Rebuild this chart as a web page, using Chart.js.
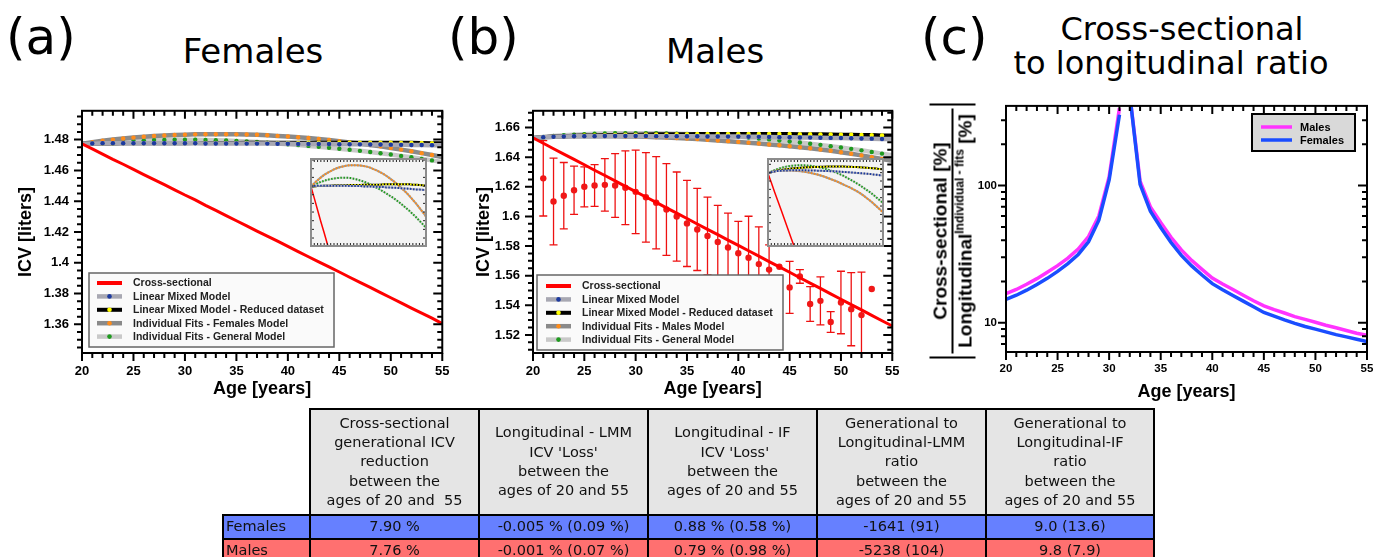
<!DOCTYPE html>
<html>
<head>
<meta charset="utf-8">
<script src="https://cdn.jsdelivr.net/npm/chart.js@4.4.1/dist/chart.umd.min.js"></script>
<style>
body { margin: 0; width: 1386px; height: 557px; background: #fff; position: relative; overflow: hidden; font-family: 'DejaVu Sans', sans-serif; color: #000; }
canvas { position: absolute; }
.panel { position: absolute; font-size: 50px; line-height: 1; top: 12px; white-space: nowrap; }
.ttl { position: absolute; line-height: 1; white-space: nowrap; transform: translateX(-50%); }
#frac { position: absolute; width: 255px; height: 46px; left: 824.5px; top: 207.5px; transform: rotate(-90deg);
        border-left: 2px solid #000; border-right: 2px solid #000; box-sizing: border-box;
        font: bold 19px 'Liberation Sans', Arial, sans-serif; text-align: center; white-space: nowrap; }
#frac .num { height: 22px; line-height: 22px; border-bottom: 2px solid #000; margin: 0 3px; }
#frac .den { height: 22px; line-height: 24px; }
#frac sup { font-size: 12px; vertical-align: 8px; line-height: 0; }
#tbl { position: absolute; left: 222px; top: 408px; border-collapse: collapse; table-layout: fixed;
       font-size: 14.5px; line-height: 19.3px; color: #111; }
#tbl td, #tbl th { border: 2px solid #000; padding: 0; font-weight: normal; text-align: center; }
#tbl th { background: #e5e5e5; height: 104px; white-space: pre; vertical-align: middle; }
#tbl td.blank { border: none; background: transparent; }
#tbl td.lab { text-align: left; padding-left: 2px; }
#tbl tr.f td { background: #6680ff; height: 22px; }
#tbl tr.m td { background: #ff7070; height: 22px; }
</style>
</head>
<body>

<div class="panel" style="left:6px">(a)</div>
<div class="panel" style="left:448px">(b)</div>
<div class="panel" style="left:921px">(c)</div>
<div class="ttl" style="left:253px;top:34px;font-size:34px">Females</div>
<div class="ttl" style="left:715px;top:34px;font-size:34px">Males</div>
<div class="ttl" style="left:1182px;top:13px;font-size:32px">Cross-sectional</div>
<div class="ttl" style="left:1171px;top:47px;font-size:32px">to longitudinal ratio</div>

<canvas id="chartA" width="460" height="320" style="left:0;top:90px"></canvas>
<canvas id="chartB" width="460" height="320" style="left:450px;top:90px"></canvas>
<canvas id="chartC" width="466" height="320" style="left:920px;top:90px"></canvas>
<canvas id="insetA" width="117" height="89" style="left:310px;top:158px"></canvas>
<canvas id="insetB" width="117" height="89" style="left:767px;top:158px"></canvas>

<div id="frac"><div class="num">Cross-sectional [%]</div><div class="den">Longitudinal<sup>Individual - fits</sup> [%]</div></div>

<table id="tbl"></table>

<script>
// ages shared by all curves
const ages = [20,21,22,23,24,25,26,27,28,29,30,31,32,33,34,35,36,37,38,39,40,41,42,43,44,45,46,47,48,49,50,51,52,53,54,55];

// (a) Females, ICV [liters]
const femCross  = [1.4773,1.4740,1.4706,1.4672,1.4640,1.4607,1.4573,1.4540,1.4507,1.4474,1.4440,1.4408,1.4373,1.4340,1.4306,1.4273,1.4240,1.4206,1.4173,1.4140,1.4106,1.4072,1.4039,1.4006,1.3973,1.3940,1.3906,1.3873,1.3840,1.3806,1.3773,1.3740,1.3706,1.3673,1.3640,1.3605];
const femLMM    = [1.4773,1.4775,1.4776,1.4776,1.4776,1.4776,1.4776,1.4776,1.4776,1.4776,1.4776,1.4776,1.4775,1.4775,1.4775,1.4775,1.4774,1.4774,1.4774,1.4773,1.4773,1.4772,1.4772,1.4771,1.4771,1.4770,1.4770,1.4769,1.4768,1.4768,1.4767,1.4766,1.4765,1.4765,1.4764,1.4763];
const femLMMred = [1.4773,1.4774,1.4775,1.4775,1.4776,1.4776,1.4776,1.4777,1.4777,1.4777,1.4777,1.4778,1.4778,1.4778,1.4778,1.4778,1.4779,1.4779,1.4779,1.4779,1.4779,1.4779,1.4780,1.4780,1.4780,1.4780,1.4780,1.4780,1.4780,1.4780,1.4780,1.4779,1.4779,1.4778,1.4777,1.4776];
const femIF     = [1.4773,1.4783,1.4792,1.4800,1.4807,1.4813,1.4818,1.4823,1.4827,1.4830,1.4832,1.4834,1.4835,1.4835,1.4835,1.4834,1.4833,1.4831,1.4828,1.4824,1.4820,1.4815,1.4810,1.4804,1.4797,1.4790,1.4782,1.4774,1.4765,1.4756,1.4746,1.4735,1.4724,1.4712,1.4700,1.4687];
const femIFgen  = [1.4773,1.4778,1.4783,1.4787,1.4790,1.4793,1.4795,1.4797,1.4798,1.4799,1.4799,1.4799,1.4798,1.4796,1.4794,1.4791,1.4788,1.4784,1.4780,1.4775,1.4770,1.4765,1.4759,1.4753,1.4747,1.4741,1.4734,1.4727,1.4719,1.4711,1.4703,1.4694,1.4685,1.4675,1.4665,1.4655];

// (b) Males, ICV [liters]
const maleCross  = [1.6530,1.6494,1.6457,1.6421,1.6385,1.6349,1.6312,1.6276,1.6240,1.6203,1.6167,1.6131,1.6095,1.6058,1.6022,1.5986,1.5949,1.5913,1.5877,1.5840,1.5804,1.5768,1.5732,1.5695,1.5659,1.5623,1.5586,1.5550,1.5514,1.5477,1.5441,1.5405,1.5369,1.5332,1.5296,1.5260];
const maleLMM    = [1.6530,1.6535,1.6538,1.6540,1.6541,1.6542,1.6542,1.6543,1.6543,1.6543,1.6543,1.6543,1.6542,1.6542,1.6542,1.6541,1.6541,1.6540,1.6540,1.6539,1.6539,1.6538,1.6537,1.6536,1.6535,1.6534,1.6533,1.6532,1.6531,1.6530,1.6529,1.6528,1.6526,1.6525,1.6523,1.6522];
const maleLMMred = [1.6530,1.6535,1.6539,1.6542,1.6544,1.6546,1.6547,1.6549,1.6550,1.6551,1.6552,1.6553,1.6554,1.6554,1.6555,1.6555,1.6556,1.6556,1.6557,1.6557,1.6557,1.6557,1.6557,1.6557,1.6556,1.6556,1.6555,1.6555,1.6554,1.6553,1.6552,1.6551,1.6550,1.6549,1.6547,1.6546];
const maleIF     = [1.6530,1.6535,1.6538,1.6540,1.6541,1.6542,1.6542,1.6542,1.6541,1.6540,1.6539,1.6537,1.6535,1.6532,1.6529,1.6526,1.6522,1.6518,1.6513,1.6508,1.6503,1.6498,1.6492,1.6486,1.6480,1.6474,1.6467,1.6460,1.6452,1.6443,1.6433,1.6423,1.6412,1.6400,1.6388,1.6376];
const maleIFgen  = [1.6530,1.6537,1.6543,1.6548,1.6552,1.6555,1.6558,1.6560,1.6561,1.6562,1.6562,1.6562,1.6561,1.6560,1.6558,1.6556,1.6553,1.6550,1.6546,1.6542,1.6537,1.6532,1.6526,1.6520,1.6513,1.6506,1.6499,1.6491,1.6483,1.6474,1.6465,1.6456,1.6446,1.6435,1.6424,1.6413];
// observed male means with error half-widths
const maleObsAges = [21,22,23,24,25,26,27,28,29,30,31,32,33,34,35,36,37,38,39,40,41,42,43,44,45,46,47,48,49,50,51,52,53];
const maleObsMean = [1.6257,1.6101,1.6140,1.6177,1.6200,1.6209,1.6213,1.6209,1.6194,1.6166,1.6129,1.6092,1.6047,1.5999,1.5953,1.5912,1.5868,1.5827,1.5790,1.5751,1.5721,1.5678,1.5641,1.5660,1.5521,1.5595,1.5409,1.5430,1.5287,1.5419,1.5374,1.5334,1.5510];
const maleObsErr  = [0.0254,0.0293,0.0224,0.0163,0.0135,0.0141,0.0177,0.0215,0.0249,0.0282,0.0302,0.0311,0.0310,0.0301,0.0291,0.0277,0.0262,0.0248,0.0232,0.0215,0.0280,0.0252,0.0167,0,0.0175,0.0046,0.0117,0.0162,0.0070,0.0211,0.0247,0.0290,0];

// (c) cross-sectional to longitudinal ratio [%]
const ratioMales   = [16.3,17.5,19.1,21.0,23.4,26.1,29.6,34.5,42.5,60,116,367,460,108,70,53.8,42,34,28.5,24.5,21.2,19.2,17.5,15.9,14.5,13.3,12.5,11.8,11.1,10.6,10.1,9.6,9.2,8.8,8.4,8.1];
const ratioFemales = [14.8,15.9,17.3,19.0,21.1,23.7,27.0,31.5,39,56,110,328,460,102,65,49.5,38.5,31,26,22.3,19.3,17.4,15.8,14.4,13.1,11.9,11.2,10.5,9.9,9.4,9.0,8.6,8.2,7.9,7.6,7.3];

// table
const tableHeads = [
  ['Cross-sectional', 'generational ICV', 'reduction', 'between the', 'ages of 20 and  55'],
  ['Longitudinal - LMM', "ICV 'Loss'", 'between the', 'ages of 20 and 55'],
  ['Longitudinal - IF', " ICV 'Loss'", 'between the', 'ages of 20 and 55'],
  ['Generational to', 'Longitudinal-LMM', 'ratio', 'between the', 'ages of 20 and 55'],
  ['Generational to', 'Longitudinal-IF', 'ratio', 'between the', 'ages of 20 and 55']
];
const rowNames = ['Females', 'Males'];
const femalesRow = ['7.90 %', '-0.005 % (0.09 %)', '0.88 % (0.58 %)', '-1641 (91)', '9.0 (13.6)'];
const malesRow   = ['7.76 %', '-0.001 % (0.07 %)', '0.79 % (0.98 %)', '-5238 (104)', '9.8 (7.9)'];

// ---------- helpers ----------
const pts = (xs, ys) => xs.map((x, i) => ({x: x, y: ys[i]}));
const dotR = ages.map(a => (a === 20 || a === 55) ? 0 : 2.2);
const FONT = "'Liberation Sans', Arial, sans-serif";
Chart.defaults.font.family = FONT;
Chart.defaults.color = '#000';
Chart.defaults.animation = false;

function linTicks(min, max, step, major) {
  const out = [];
  for (let k = Math.ceil(min / step - 1e-6); k * step <= max + step * 1e-6; k++) {
    const v = k * step, r = v / major;
    out.push([v, Math.abs(r - Math.round(r)) < 1e-6]);
  }
  return out;
}
function logTicks(min, max) {
  const out = [];
  for (let d = 1; d <= 1000; d *= 10)
    for (let m = 1; m <= 9; m++) {
      const v = m * d;
      if (v >= min && v <= max) out.push([v, m === 1]);
    }
  return out;
}

// frame box with tick marks on all four sides
const frameTicks = {
  id: 'frameTicks',
  beforeDatasetsDraw(chart, args, o) {
    if (!o.bg) return;
    const ca = chart.chartArea;
    chart.ctx.save();
    chart.ctx.fillStyle = o.bg;
    chart.ctx.fillRect(ca.left, ca.top, ca.right - ca.left, ca.bottom - ca.top);
    chart.ctx.restore();
  },
  afterDatasetsDraw(chart, args, o) {
    const ctx = chart.ctx, ca = chart.chartArea, xs = chart.scales.x, ys = chart.scales.y;
    const xt = linTicks(xs.min, xs.max, o.xStep, o.xMajor);
    const yt = o.yLog ? logTicks(ys.min, ys.max) : linTicks(ys.min, ys.max, o.yStep, o.yMajor);
    ctx.save();
    ctx.strokeStyle = o.tickColor;
    ctx.lineWidth = o.tickWidth;
    ctx.beginPath();
    xt.forEach(([v, major]) => {
      const p = xs.getPixelForValue(v), L = major ? o.majorLen : o.minorLen;
      ctx.moveTo(p, ca.bottom); ctx.lineTo(p, ca.bottom + (o.outBottom ? L : -L));
      ctx.moveTo(p, ca.top); ctx.lineTo(p, ca.top + L);
    });
    yt.forEach(([v, major]) => {
      const p = ys.getPixelForValue(v), L = major ? o.majorLen : o.minorLen;
      ctx.moveTo(ca.left, p); ctx.lineTo(ca.left + (o.outLeft ? -L : L), p);
      ctx.moveTo(ca.right, p); ctx.lineTo(ca.right - L - (major ? 1 : 0), p);
    });
    ctx.stroke();
    ctx.strokeStyle = o.color;
    ctx.lineWidth = o.width;
    ctx.strokeRect(ca.left, ca.top, ca.right - ca.left, ca.bottom - ca.top);
    ctx.restore();
  }
};

// legend box built from the datasets
const legendBox = {
  id: 'legendBox',
  afterDraw(chart, args, o) {
    if (!o.w) return;
    const ctx = chart.ctx;
    ctx.save();
    ctx.fillStyle = o.bg;
    ctx.fillRect(o.x, o.y, o.w, o.h);
    ctx.strokeStyle = o.border;
    ctx.lineWidth = o.borderWidth;
    ctx.strokeRect(o.x, o.y, o.w, o.h);
    ctx.font = o.font;
    ctx.textBaseline = 'middle';
    let row = 0;
    chart.data.datasets.forEach(ds => {
      if (!ds.label) return;
      const y = o.y + o.first + row * o.gap;
      const x0 = o.x + o.lineFrom, x1 = o.x + o.lineTo;
      ctx.strokeStyle = ds.borderColor;
      ctx.lineWidth = ds.legendWidth || ds.borderWidth;
      ctx.beginPath(); ctx.moveTo(x0, y); ctx.lineTo(x1, y); ctx.stroke();
      if (ds.legendDot) {
        ctx.fillStyle = ds.legendDot;
        ctx.beginPath(); ctx.arc((x0 + x1) / 2, y, 2.3, 0, Math.PI * 2); ctx.fill();
      }
      ctx.fillStyle = o.textColor;
      ctx.fillText(ds.label, o.x + o.textX, y + 0.5);
      row++;
    });
    ctx.restore();
  }
};

// vertical error bars for one dataset
const errorBars = {
  id: 'errorBars',
  beforeDatasetsDraw(chart, args, o) {
    if (!o.color) return;
    const ctx = chart.ctx, ca = chart.chartArea, ys = chart.scales.y;
    const meta = chart.getDatasetMeta(o.datasetIndex);
    const data = chart.data.datasets[o.datasetIndex].data;
    ctx.save();
    ctx.beginPath(); ctx.rect(ca.left, ca.top, ca.right - ca.left, ca.bottom - ca.top); ctx.clip();
    ctx.strokeStyle = o.color;
    ctx.lineWidth = o.width;
    meta.data.forEach((pt, i) => {
      const e = maleObsErr[i];
      if (!e) return;
      const y0 = ys.getPixelForValue(data[i].y - e), y1 = ys.getPixelForValue(data[i].y + e);
      ctx.beginPath();
      ctx.moveTo(pt.x, y0); ctx.lineTo(pt.x, y1);
      ctx.moveTo(pt.x - o.cap, y0); ctx.lineTo(pt.x + o.cap, y0);
      ctx.moveTo(pt.x - o.cap, y1); ctx.lineTo(pt.x + o.cap, y1);
      ctx.stroke();
    });
    ctx.restore();
  }
};

function series(label, ys, line, dot, width) {
  return { label: label, data: pts(ages, ys), borderColor: line, borderWidth: width,
           pointRadius: dotR, pointBackgroundColor: dot, pointBorderWidth: 0, legendDot: dot, tension: 0 };
}

function mainChart(id, datasets, yMin, yMax, yAxisW, yTitlePad, legend, extraPlugins) {
  return new Chart(document.getElementById(id), {
    type: 'line',
    data: { datasets: datasets },
    options: {
      responsive: false, devicePixelRatio: 1, events: [],
      layout: { padding: { left: 0, right: 13, top: yAxisW === 83 ? 12 : 10, bottom: 0 } },
      scales: {
        x: { type: 'linear', min: 20, max: 55,
             grid: { display: false, drawTicks: false }, border: { display: false },
             ticks: { stepSize: 5, padding: 10.5, font: { size: 13, weight: 'bold' } },
             title: { display: true, text: 'Age [years]', font: { size: 18, weight: 'bold' }, padding: { top: 0, bottom: 10 } },
             afterFit: s => { s.height = 57; } },
        y: { min: yMin, max: yMax,
             grid: { display: false, drawTicks: false }, border: { display: false },
             ticks: { stepSize: 0.02, includeBounds: false, padding: 13, font: { size: 13, weight: 'bold' },
                      callback: v => String(+v.toFixed(3)) },
             title: { display: true, text: 'ICV [liters]', font: { size: 18, weight: 'bold' }, padding: { top: yTitlePad, bottom: 0 } },
             afterFit: s => { s.width = yAxisW; } }
      },
      plugins: {
        legend: { display: false }, tooltip: { enabled: false },
        frameTicks: { color: '#000', width: 2, tickColor: '#000', tickWidth: 2, minorLen: 5, majorLen: 8,
                      xStep: 1, xMajor: 5, yStep: 0.005, yMajor: 0.02, outLeft: true, outBottom: true },
        legendBox: Object.assign({ bg: '#fafafa', border: '#666', borderWidth: 1.5, font: 'bold 10.5px ' + FONT,
                                   textColor: '#222', gap: 13.4 }, legend),
        errorBars: extraPlugins || {}
      }
    },
    plugins: [frameTicks, legendBox, errorBars]
  });
}

// ---------- (a) ----------
mainChart('chartA', [
  { label: 'Cross-sectional', data: pts(ages, femCross), borderColor: '#ff0000', borderWidth: 3, legendWidth: 4, pointRadius: 0 },
  series('Linear Mixed Model', femLMM, '#a8a8b2', '#1c3a9e', 4.5),
  series('Linear Mixed Model - Reduced dataset', femLMMred, '#000000', '#ffff00', 4),
  series('Individual Fits - Females Model', femIF, '#8a8a8a', '#ff8c1a', 4.5),
  series('Individual Fits - General Model', femIFgen, '#c9c9c9', '#1e9a1e', 4.5)
], 1.3414, 1.4987, 82, 15,
  { x: 89, y: 183, w: 245, h: 74, first: 10, lineFrom: 8, lineTo: 33, textX: 44 });

// ---------- (b) ----------
mainChart('chartB', [
  { label: 'Cross-sectional', data: pts(ages, maleCross), borderColor: '#ff0000', borderWidth: 3, legendWidth: 4, pointRadius: 0 },
  series('Linear Mixed Model', maleLMM, '#a8a8b2', '#1c3a9e', 4.5),
  series('Linear Mixed Model - Reduced dataset', maleLMMred, '#000000', '#ffff00', 4),
  series('Individual Fits - Males Model', maleIF, '#8a8a8a', '#ff8c1a', 4.5),
  series('Individual Fits - General Model', maleIFgen, '#c9c9c9', '#1e9a1e', 4.5),
  { data: pts(maleObsAges, maleObsMean), showLine: false, pointRadius: 3.2, pointBackgroundColor: '#f01818', pointBorderWidth: 0 }
], 1.5078, 1.6713, 83, 23,
  { x: 87, y: 185, w: 246, h: 75, first: 11, lineFrom: 9, lineTo: 34, textX: 45 },
  { datasetIndex: 5, color: '#ee1111', width: 1.3, cap: 4 });

// ---------- insets ----------
function insetChart(id, cross, lmm, lmmred, ifm, ifg, yMin, yMax, yStep) {
  const base = (ys, c) => ({ data: pts(ages, ys), borderColor: c, borderWidth: 2, pointRadius: 0 });
  const dots = (ys, c) => ({ data: pts(ages, ys), borderColor: c, borderWidth: 2, borderDash: [1.5, 1.6], pointRadius: 0 });
  return new Chart(document.getElementById(id), {
    type: 'line',
    data: { datasets: [
      { data: pts(ages, cross), borderColor: '#ff0000', borderWidth: 1.5, pointRadius: 0 },
      dots(lmm, '#1c3a9e'), base(lmm, '#b4b4bc'),
      dots(lmmred, '#ffff00'), base(lmmred, '#000000'),
      dots(ifm, '#ff8c1a'), base(ifm, '#9a9a9a'),
      dots(ifg, '#1e9a1e'), base(ifg, '#d0d0d0')
    ] },
    options: {
      responsive: false, devicePixelRatio: 1, events: [],
      layout: { padding: 1 },
      scales: {
        x: { type: 'linear', min: 20, max: 55, display: false },
        y: { min: yMin, max: yMax, display: false }
      },
      plugins: {
        legend: { display: false }, tooltip: { enabled: false },
        frameTicks: { bg: '#f4f4f4', color: '#8c8c8c', width: 2, tickColor: '#222', tickWidth: 1, minorLen: 3, majorLen: 3,
                      xStep: 1, xMajor: 5, yStep: yStep, yMajor: 1, outLeft: false, outBottom: false }
      }
    },
    plugins: [frameTicks]
  });
}
insetChart('insetA', femCross, femLMM, femLMMred, femIF, femIFgen, 1.4602, 1.4853, 0.0025);
insetChart('insetB', maleCross, maleLMM, maleLMMred, maleIF, maleIFgen, 1.6243, 1.6587, 0.0033);

// ---------- (c) ----------
const gapIndex = ages.indexOf(31);
const noGap = { borderColor: c => c.p0DataIndex === gapIndex ? 'rgba(0,0,0,0)' : undefined };
new Chart(document.getElementById('chartC'), {
  type: 'line',
  data: { datasets: [
    { label: 'Males', data: pts(ages, ratioMales), borderColor: '#ff33ff', borderWidth: 3.5, pointRadius: 0, order: 1, segment: noGap },
    { label: 'Females', data: pts(ages, ratioFemales), borderColor: '#1a4dff', borderWidth: 3.5, pointRadius: 0, order: 0, segment: noGap }
  ] },
  options: {
    responsive: false, devicePixelRatio: 1, events: [],
    layout: { padding: { left: 0, right: 19, top: 11, bottom: 0 } },
    scales: {
      x: { type: 'linear', min: 20, max: 55,
           grid: { display: false, drawTicks: false }, border: { display: false },
           ticks: { stepSize: 5, padding: 10, font: { size: 11.5, weight: 'bold' } },
           title: { display: true, text: 'Age [years]', font: { size: 18, weight: 'bold' }, padding: { top: 0, bottom: 7.5 } },
           afterFit: s => { s.height = 58; } },
      y: { type: 'logarithmic', min: 6.13, max: 381,
           grid: { display: false, drawTicks: false }, border: { display: false },
           ticks: { autoSkip: false, padding: 9, font: { size: 11.5, weight: 'bold' },
                    callback: v => (v === 10 || v === 100) ? String(v) : '' },
           afterFit: s => { s.width = 86; } }
    },
    plugins: {
      legend: { display: false }, tooltip: { enabled: false },
      frameTicks: { color: '#000', width: 2, tickColor: '#000', tickWidth: 2, minorLen: 5, majorLen: 8,
                    xStep: 1, xMajor: 5, yLog: true, outLeft: true, outBottom: true },
      legendBox: { x: 332, y: 24, w: 103, h: 37, bg: '#d9d9d9', border: '#000', borderWidth: 2,
                   font: 'bold 11px ' + FONT, textColor: '#000', first: 13, gap: 13,
                   lineFrom: 9, lineTo: 40, textX: 48 }
    }
  },
  plugins: [frameTicks, legendBox]
});

// ---------- table ----------
(function buildTable() {
  const t = document.getElementById('tbl');
  const cols = document.createElement('colgroup');
  [87, 169, 169, 169, 169, 168].forEach(w => {
    const c = document.createElement('col'); c.style.width = w + 'px'; cols.appendChild(c);
  });
  t.appendChild(cols);
  const head = t.insertRow();
  const blank = head.insertCell(); blank.className = 'blank';
  tableHeads.forEach(lines => {
    const th = document.createElement('th');
    th.textContent = lines.join('\n');
    head.appendChild(th);
  });
  [[rowNames[0], femalesRow, 'f'], [rowNames[1], malesRow, 'm']].forEach(([name, vals, cls]) => {
    const r = t.insertRow(); r.className = cls;
    const lab = r.insertCell(); lab.className = 'lab'; lab.textContent = name;
    vals.forEach(v => { r.insertCell().textContent = v; });
  });
})();
</script>
</body>
</html>
